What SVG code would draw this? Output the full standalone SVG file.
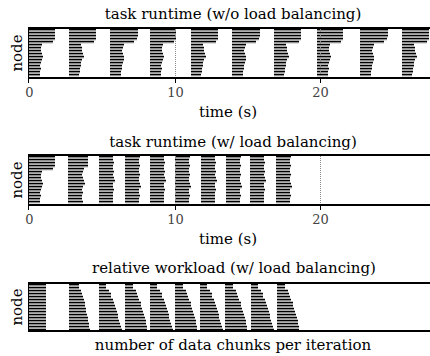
<svg xmlns="http://www.w3.org/2000/svg" width="430" height="356" viewBox="0 0 430 356">
<style>
.k{fill:none;stroke:#000;stroke-width:1.3}
.g{fill:none;stroke:#808080;stroke-width:1.1}
.ax{fill:none;stroke:#000;stroke-width:2}
.tk{fill:none;stroke:#000;stroke-width:1}
.grid{fill:none;stroke:#8a8a8a;stroke-width:1;stroke-dasharray:1 1}
text{font-family:"DejaVu Serif","Liberation Serif",serif}
.t{font-size:15px;text-anchor:middle;fill:#000}
.n{font-size:13px;text-anchor:middle;fill:#444}
</style>
<defs>
<path id="t1a" d="M0 .5h26M0 3.5h26M0 6.5h26M0 9.5h26M0 12.5h24M0 15.5h13M0 18.5h12M0 21.5h12M0 24.5h13M0 27.5h14M0 30.5h13M0 33.5h12M0 36.5h11M0 39.5h12M0 42.5h11M0 45.5h11"/>
<path id="t1b" d="M0 .5h27M0 3.5h27M0 6.5h27M0 9.5h27M0 12.5h25M0 15.5h12M0 18.5h13M0 21.5h13M0 24.5h14M0 27.5h15M0 30.5h13M0 33.5h12M0 36.5h12M0 39.5h11M0 42.5h11M0 45.5h10"/>
<path id="t1c" d="M0 .5h28M0 3.5h28M0 6.5h28M0 9.5h27M0 12.5h24M0 15.5h14M0 18.5h13M0 21.5h12M0 24.5h13M0 27.5h14M0 30.5h14M0 33.5h13M0 36.5h12M0 39.5h12M0 42.5h11M0 45.5h11"/>
<path id="t2b" d="M0 .5h20M0 3.5h20M0 6.5h20M0 9.5h20M0 12.5h16M0 15.5h15M0 18.5h14M0 21.5h15M0 24.5h16M0 27.5h17M0 30.5h15M0 33.5h14M0 36.5h15M0 39.5h14M0 42.5h14M0 45.5h15"/>
<path id="t2u1" d="M0 .5h14M0 3.5h14M0 6.5h15M0 9.5h14M0 12.5h14M0 15.5h15M0 18.5h14M0 21.5h15M0 24.5h16M0 27.5h14M0 30.5h14M0 33.5h15M0 36.5h14M0 39.5h14M0 42.5h14M0 45.5h14"/>
<path id="t2u2" d="M0 .5h15M0 3.5h14M0 6.5h14M0 9.5h15M0 12.5h14M0 15.5h14M0 18.5h15M0 21.5h14M0 24.5h14M0 27.5h15M0 30.5h16M0 33.5h14M0 36.5h14M0 39.5h15M0 42.5h14M0 45.5h14"/>
<path id="t3a" d="M0 .5h17M0 3.5h17M0 6.5h17M0 9.5h17M0 12.5h17M0 15.5h17M0 18.5h17M0 21.5h17M0 24.5h17M0 27.5h17M0 30.5h17M0 33.5h17M0 36.5h17M0 39.5h17M0 42.5h17M0 45.5h17"/>
<path id="t3b" d="M0 .5h10M0 3.5h10M0 6.5h12M0 9.5h13M0 12.5h14M0 15.5h15M0 18.5h16M0 21.5h16M0 24.5h17M0 27.5h17M0 30.5h18M0 33.5h19M0 36.5h19M0 39.5h20M0 42.5h20M0 45.5h21"/>
<path id="t3c" d="M0 .5h7M0 3.5h7M0 6.5h10M0 9.5h12M0 12.5h12M0 15.5h14M0 18.5h15M0 21.5h16M0 24.5h17M0 27.5h18M0 30.5h19M0 33.5h19M0 36.5h20M0 39.5h21M0 42.5h22M0 45.5h23"/>
<path id="t3d" d="M0 .5h8M0 3.5h8M0 6.5h11M0 9.5h12M0 12.5h13M0 15.5h14M0 18.5h16M0 21.5h16M0 24.5h17M0 27.5h18M0 30.5h19M0 33.5h20M0 36.5h21M0 39.5h21M0 42.5h22M0 45.5h22"/>
<g id="b1a"><use href="#t1a" class="k"/><use href="#t1a" class="g" y="1.2"/></g>
<g id="b1b"><use href="#t1b" class="k"/><use href="#t1b" class="g" y="1.2"/></g>
<g id="b1c"><use href="#t1c" class="k"/><use href="#t1c" class="g" y="1.2"/></g>
<g id="b2b"><use href="#t2b" class="k"/><use href="#t2b" class="g" y="1.2"/></g>
<g id="b2u1"><use href="#t2u1" class="k"/><use href="#t2u1" class="g" y="1.2"/></g>
<g id="b2u2"><use href="#t2u2" class="k"/><use href="#t2u2" class="g" y="1.2"/></g>
<g id="b3a"><use href="#t3a" class="k"/><use href="#t3a" class="g" y="1.2"/></g>
<g id="b3b"><use href="#t3b" class="k"/><use href="#t3b" class="g" y="1.2"/></g>
<g id="b3c"><use href="#t3c" class="k"/><use href="#t3c" class="g" y="1.2"/></g>
<g id="b3d"><use href="#t3d" class="k"/><use href="#t3d" class="g" y="1.2"/></g>
</defs>
<rect width="430" height="356" fill="#fff"/>

<g id="plot1">
<text class="t" x="233" y="19">task runtime (w/o load balancing)</text>
<text class="t" transform="translate(22,53) rotate(-90)">node</text>
<g id="bars1">
<use href="#b1a" x="29" y="29"/>
<use href="#b1b" x="69" y="29"/>
<use href="#b1c" x="110" y="29"/>
<use href="#b1a" x="150" y="29"/>
<use href="#b1b" x="191" y="29"/>
<use href="#b1c" x="232" y="29"/>
<use href="#b1b" x="274" y="29"/>
<use href="#b1a" x="317" y="29"/>
<use href="#b1c" x="360" y="29"/>
<use href="#b1b" x="402" y="29"/>
</g>
<path class="grid" d="M175.5 29V77M320.5 29V77"/>
<path class="ax" d="M28 28H430M28 78H430"/>
<path class="tk" d="M28.5 28V83M175.5 79V83M320.5 79V83"/>
<text class="n" x="29.5" y="97">0</text>
<text class="n" x="175.5" y="97">10</text>
<text class="n" x="320.5" y="97">20</text>
<text class="t" x="228" y="117">time (s)</text>
</g>

<g id="plot2">
<text class="t" x="233" y="147">task runtime (w/ load balancing)</text>
<text class="t" transform="translate(22,180) rotate(-90)">node</text>
<g id="bars2">
<use href="#b1a" x="29" y="156"/>
<use href="#b2b" x="68" y="156"/>
<use href="#b2u1" x="99" y="156"/>
<use href="#b2u2" x="125" y="156"/>
<use href="#b2u1" x="150" y="156"/>
<use href="#b2u2" x="175" y="156"/>
<use href="#b2u1" x="201" y="156"/>
<use href="#b2u2" x="226" y="156"/>
<use href="#b2u1" x="250" y="156"/>
<use href="#b2u2" x="276" y="156"/>
</g>
<path class="grid" d="M175.5 156V204M320.5 156V204"/>
<path class="ax" d="M28 155H430M28 205H430"/>
<path class="tk" d="M28.5 155V210M175.5 206V210M320.5 206V210"/>
<text class="n" x="29.5" y="224">0</text>
<text class="n" x="175.5" y="224">10</text>
<text class="n" x="320.5" y="224">20</text>
<text class="t" x="228" y="244">time (s)</text>
</g>

<g id="plot3">
<text class="t" x="234" y="273">relative workload (w/ load balancing)</text>
<text class="t" transform="translate(22,307) rotate(-90)">node</text>
<g id="bars3">
<use href="#b3a" x="29" y="284"/>
<use href="#b3b" x="69" y="284"/>
<use href="#b3c" x="99" y="284"/>
<use href="#b3d" x="125" y="284"/>
<use href="#b3c" x="150" y="284"/>
<use href="#b3d" x="175" y="284"/>
<use href="#b3c" x="200" y="284"/>
<use href="#b3d" x="225" y="284"/>
<use href="#b3c" x="251" y="284"/>
<use href="#b3d" x="277" y="284"/>
</g>
<path class="ax" d="M28 283H430M28 331H430"/>
<path class="tk" d="M28.5 283V331"/>
<text class="t" x="233" y="350">number of data chunks per iteration</text>
</g>
</svg>
